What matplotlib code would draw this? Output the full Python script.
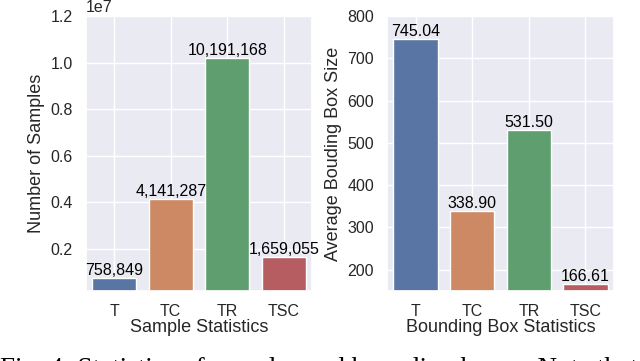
import numpy as np
import matplotlib
matplotlib.use("Agg")
import matplotlib.pyplot as plt
import seaborn as sns

cats = ["T", "TC", "TR", "TSC"]
samples = [758849, 4141287, 10191168, 1659055]
bbox_size = [745.04, 338.90, 531.50, 166.61]
sample_ticks = [0.2e7, 0.4e7, 0.6e7, 0.8e7, 1.0e7, 1.2e7]
bbox_ticks = [200, 300, 400, 500, 600, 700, 800]
caption = "Fig. 4: Statistics of samples and bounding boxes. Note that the"

sns.set_theme(style="darkgrid")
plt.rcParams["font.family"] = ["Liberation Sans", "DejaVu Sans"]
colors = [sns.desaturate(c, 0.75) for c in sns.color_palette("deep", 4)]

fig = plt.figure(figsize=(6.4, 3.61), dpi=100)
ax1 = fig.add_axes([0.134, 0.194, 0.354, 0.762])
ax2 = fig.add_axes([0.605, 0.194, 0.354, 0.762])

x = np.arange(len(cats))

# left: number of samples
ax1.bar(x, samples, width=0.78, color=colors, edgecolor="white", linewidth=1)
for xi, v in zip(x, samples):
    ax1.text(xi, v, f"{v:,}", ha="center", va="bottom", fontsize=11.5, color="black")
ax1.set_xlim(-0.5, 3.5)
ax1.set_ylim(0.02e7, 1.2e7)
ax1.set_yticks(sample_ticks)
ax1.set_xticks(x)
ax1.set_xticklabels(cats)
ax1.set_ylabel("Number of Samples", fontsize=13)
ax1.set_xlabel("Sample Statistics", fontsize=13, labelpad=0)
ax1.tick_params(labelsize=11.5)
ax1.yaxis.get_offset_text().set_fontsize(11.5)

# right: average bounding box size
ax2.bar(x, bbox_size, width=0.78, color=colors, edgecolor="white", linewidth=1)
for xi, v in zip(x, bbox_size):
    ax2.text(xi, v, f"{v:.2f}", ha="center", va="bottom", fontsize=11.5, color="black")
ax2.set_xlim(-0.5, 3.5)
ax2.set_ylim(150, 800)
ax2.set_yticks(bbox_ticks)
ax2.set_xticks(x)
ax2.set_xticklabels(cats)
ax2.set_ylabel("Average Bouding Box Size", fontsize=13)
ax2.set_xlabel("Bounding Box Statistics", fontsize=13, labelpad=0)
ax2.tick_params(labelsize=11.5)

# caption from the paper, clipped at the bottom edge like the source crop
fig.text(0.0, -0.042, caption, fontsize=19.5, family="Liberation Serif",
         ha="left", va="baseline", color="black")

fig.savefig("out.png", dpi=100)
